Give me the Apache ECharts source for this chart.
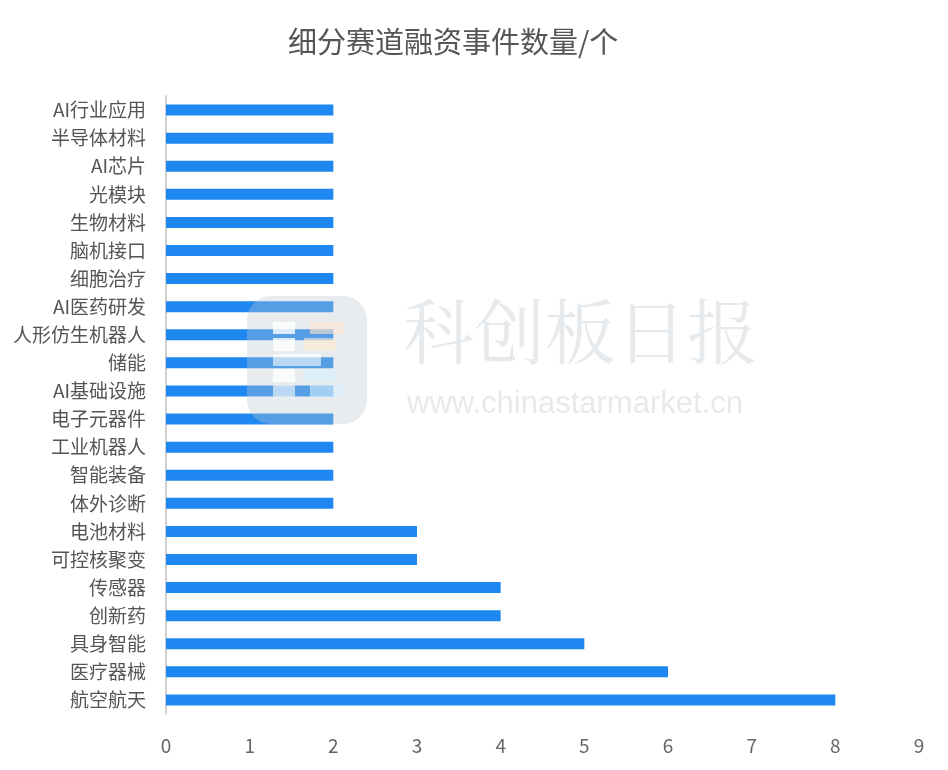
<!DOCTYPE html>
<html>
<head>
    <meta charset="utf-8">
    <title>细分赛道融资事件数量</title>
    <script src="https://cdn.jsdelivr.net/npm/echarts@6/dist/echarts.min.js"></script>
    <style>
        html, body { margin: 0; padding: 0; background: #fff; }
        #chart { width: 948px; height: 770px; }
    </style>
</head>
<body>
<div id="chart"></div>
<script type="text/javascript">
    // 数据（自下而上）
    var categories = ['航空航天', '医疗器械', '具身智能', '创新药', '传感器', '可控核聚变', '电池材料',
        '体外诊断', '智能装备', '工业机器人', '电子元器件', 'AI基础设施', '储能', '人形仿生机器人',
        'AI医药研发', '细胞治疗', '脑机接口', '生物材料', '光模块', 'AI芯片', '半导体材料', 'AI行业应用'];
    var counts = [8, 6, 5, 4, 4, 3, 3, 2, 2, 2, 2, 2, 2, 2, 2, 2, 2, 2, 2, 2, 2, 2];
    var titleText = '细分赛道融资事件数量/个';

    var myChart = echarts.init(document.getElementById('chart'));
    var font = '"Noto Sans CJK SC", "Noto Sans", sans-serif';

    // 水印里 logo 的小方块
    function logoRect(x, y, w, h, fill) {
        return { type: 'rect', z: 101, left: x, top: y, shape: { width: w, height: h }, style: { fill: fill } };
    }

    myChart.setOption({
        animation: false,
        title: {
            text: titleText,
            left: 283,
            top: 22,
            textStyle: { fontSize: 29, fontWeight: 'normal', color: '#555', fontFamily: font }
        },
        grid: { left: 166, right: 29, top: 96, bottom: 56, containLabel: false },
        xAxis: {
            type: 'value',
            min: 0,
            max: 9,
            interval: 1,
            axisLine: { show: false },
            axisTick: { show: false },
            splitLine: { show: false },
            axisLabel: { fontSize: 19, color: '#666', margin: 22, fontFamily: font }
        },
        yAxis: {
            type: 'category',
            data: categories,
            axisLine: { show: true, lineStyle: { color: '#d0d0d0', width: 2 } },
            axisTick: { show: false },
            axisLabel: { fontSize: 19, color: '#555', margin: 20, fontFamily: font }
        },
        series: [{
            type: 'bar',
            data: counts,
            barWidth: 11,
            itemStyle: { color: '#1E88F0' }
        }],
        graphic: [
            {
                type: 'rect', z: 100, left: 247, top: 296,
                shape: { width: 120, height: 128, r: 24 },
                style: { fill: 'rgba(190,200,210,0.35)' }
            },
            logoRect(273, 322, 22, 12, 'rgba(255,255,255,0.8)'),
            logoRect(273, 338, 22, 13, 'rgba(255,255,255,0.8)'),
            logoRect(273, 354, 48, 12, 'rgba(255,255,255,0.6)'),
            logoRect(273, 369, 22, 13, 'rgba(255,255,255,0.8)'),
            logoRect(273, 385, 22, 12, 'rgba(255,255,255,0.6)'),
            logoRect(310, 322, 34, 12, 'rgba(255,225,205,0.6)'),
            logoRect(304, 338, 32, 13, 'rgba(255,235,205,0.6)'),
            logoRect(304, 369, 32, 13, 'rgba(215,240,255,0.6)'),
            logoRect(310, 385, 34, 12, 'rgba(215,240,255,0.6)'),
            {
                type: 'text', z: 100, left: 403, top: 296,
                style: { text: '科创板日报', fontSize: 71, fill: 'rgba(200,208,216,0.45)', fontFamily: '"Noto Serif CJK SC", "Noto Sans CJK SC", serif' }
            },
            {
                type: 'text', z: 100, left: 407, top: 389,
                style: { text: 'www.chinastarmarket.cn', fontSize: 31, fill: 'rgba(200,208,216,0.45)', fontFamily: 'Liberation Sans, sans-serif' }
            }
        ]
    });
</script>
</body>
</html>
